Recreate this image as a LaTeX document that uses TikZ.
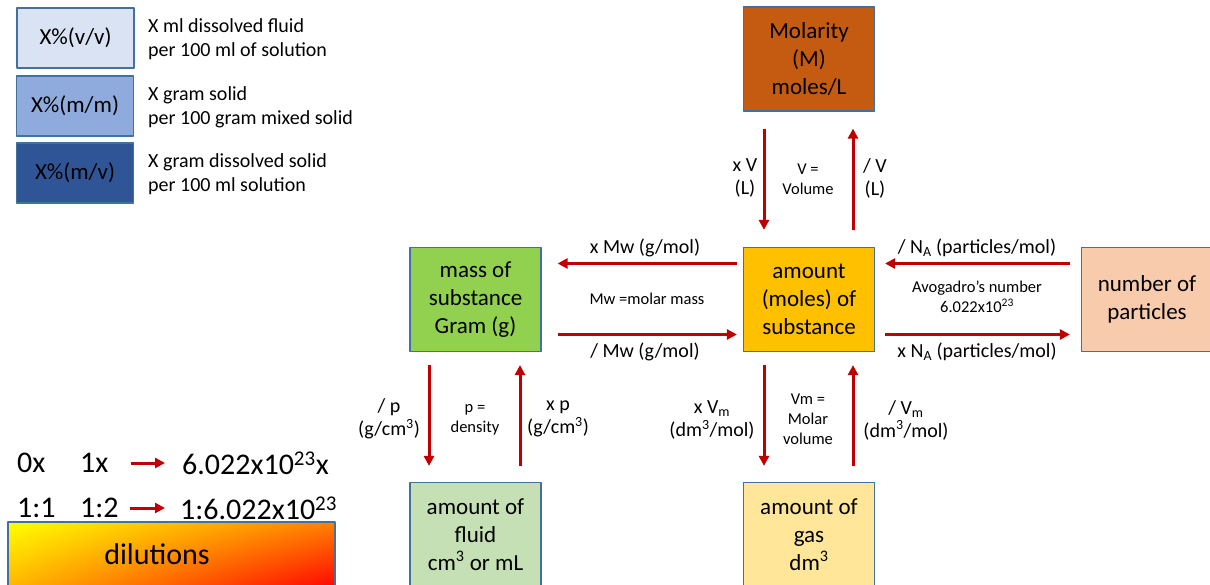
\documentclass[tikz,border=0pt]{standalone}
\usepackage{fontspec}
\setmainfont{Carlito}
\usetikzlibrary{arrows.meta,shadings}
\definecolor{arrowred}{HTML}{C00000}
\definecolor{edgeblue}{HTML}{41719C}
\definecolor{vvblue}{HTML}{DAE3F3}
\definecolor{mmblue}{HTML}{8FAADC}
\definecolor{mvblue}{HTML}{2F5597}
\definecolor{molfill}{HTML}{C55A11}
\definecolor{massfill}{HTML}{92D050}
\definecolor{amtfill}{HTML}{FFC000}
\definecolor{numfill}{HTML}{F8CBAD}
\definecolor{fluidfill}{HTML}{C5E0B4}
\definecolor{gasfill}{HTML}{FFE699}
\tikzset{
  box/.style={draw=edgeblue, line width=1.2pt, minimum width=131pt, minimum height=104pt, align=center, inner sep=0pt, font=\fontsize{23}{27.8}\selectfont},
  legbox/.style={draw=edgeblue, line width=1.2pt, minimum width=117pt, minimum height=60pt, inner sep=0pt, font=\fontsize{23}{26}\selectfont},
  legtext/.style={anchor=west, align=left, inner sep=0pt, font=\fontsize{20}{24}\selectfont},
  conn/.style={arrowred, line width=3pt, -{Triangle[length=10pt,width=10pt]}},
  smallconn/.style={arrowred, line width=3pt, -{Triangle[length=10pt,width=10pt]}},
  lbl/.style={align=center, inner sep=0pt, font=\fontsize{20}{23}\selectfont},
  note/.style={align=center, inner sep=0pt, font=\fontsize{16.5}{20}\selectfont},
  big/.style={anchor=west, inner sep=0pt, font=\fontsize{30}{34}\selectfont},
}
\begin{document}
\begin{tikzpicture}[x=1pt,y=-1pt,line join=round]
  \useasboundingbox (0,0) rectangle (1210,584);
  \clip (0,0) rectangle (1210,584);
  % legend of percentages
  \node[legbox,fill=vvblue] (vv) at (75.5,38) {X\%(v/v)};
  \node[legbox,fill=mmblue] (mm) at (75,106) {X\%(m/m)};
  \node[legbox,fill=mvblue] (mv) at (75,173) {X\%(m/v)};
  \node[legtext] (vvtext) at (148,39) {X ml dissolved fluid\\per 100 ml of solution};
  \node[legtext] (mmtext) at (148,107) {X gram solid\\per 100 gram mixed solid};
  \node[legtext] (mvtext) at (148,174) {X gram dissolved solid\\per 100 ml solution};
  % boxes
  \node[box,fill=molfill] (mol) at (809,59) {Molarity\\(M)\\moles/L};
  \node[box,fill=massfill] (mass) at (475.5,299.5) {mass of\\substance\\Gram (g)};
  \node[box,fill=amtfill] (amt) at (809,299.5) {amount\\(moles) of\\substance};
  \node[box,fill=numfill] (num) at (1147,299.5) {number of\\particles};
  \node[box,fill=fluidfill] (fluid) at (475.5,534.5) {amount of\\fluid\\cm\textsuperscript{3} or mL};
  \node[box,fill=gasfill] (gas) at (809,534.5) {amount of\\gas\\dm\textsuperscript{3}};
  % arrows
  \draw[conn,shorten <=17pt,shorten >=17pt] ([xshift=-45pt]mol.south) -- ([xshift=-45pt]amt.north);
  \draw[conn,shorten <=17pt,shorten >=17pt] ([xshift=44pt]amt.north) -- ([xshift=44pt]mol.south);
  \draw[conn,shorten <=6pt,shorten >=16pt] ([yshift=36pt]amt.west) -- ([yshift=36pt]mass.east);
  \draw[conn,shorten <=16pt,shorten >=6pt] ([yshift=-35pt]mass.east) -- ([yshift=-35pt]amt.west);
  \draw[conn,shorten <=11pt,shorten >=10pt] ([yshift=36pt]num.west) -- ([yshift=36pt]amt.east);
  \draw[conn,shorten <=10pt,shorten >=11pt] ([yshift=-35pt]amt.east) -- ([yshift=-35pt]num.west);
  \draw[conn,shorten <=13pt,shorten >=16pt] ([xshift=-46.5pt]mass.south) -- ([xshift=-46.5pt]fluid.north);
  \draw[conn,shorten <=16pt,shorten >=13pt] ([xshift=44.5pt]fluid.north) -- ([xshift=44.5pt]mass.south);
  \draw[conn,shorten <=13pt,shorten >=16pt] ([xshift=-45pt]amt.south) -- ([xshift=-45pt]gas.north);
  \draw[conn,shorten <=16pt,shorten >=13pt] ([xshift=44pt]gas.north) -- ([xshift=44pt]amt.south);
  % labels
  \node[lbl] (xv) at (745,178) {x V\\(L)};
  \node[note] (vnote) at (808,179) {V =\\Volume};
  \node[lbl] (dv) at (875,178) {/ V\\(L)};
  \node[lbl] (xmw) at (645,248) {x Mw (g/mol)};
  \node[note] (mwnote) at (647,299) {Mw =molar mass};
  \node[lbl] (dmw) at (645,352) {/ Mw (g/mol)};
  \node[lbl] (dna) at (977,248) {/ N\textsubscript{A} (particles/mol)};
  \node[note] (nanote) at (977,297) {Avogadro’s number\\6.022x10\textsuperscript{23}};
  \node[lbl] (xna) at (977,352) {x N\textsubscript{A} (particles/mol)};
  \node[lbl] (dp) at (389,419) {/ p\\(g/cm\textsuperscript{3})};
  \node[note] (pnote) at (475,420) {p =\\density};
  \node[lbl] (xp) at (558,419) {x p\\(g/cm\textsuperscript{3})};
  \node[lbl] (xvm) at (712,420) {x V\textsubscript{m}\\(dm\textsuperscript{3}/mol)};
  \node[note] (vmnote) at (808,419) {Vm =\\Molar\\volume};
  \node[lbl] (dvm) at (906,420) {/ V\textsubscript{m}\\(dm\textsuperscript{3}/mol)};
  % dilutions
  \node[big] (zero) at (17,463) {0x};
  \node[big] (one) at (80,463) {1x};
  \node[big] (avo) at (182,463) {6.022x10\textsuperscript{23}x};
  \node[big] (rone) at (17,508) {1:1};
  \node[big] (rtwo) at (80,508) {1:2};
  \node[big] (ravo) at (180,508) {1:6.022x10\textsuperscript{23}};
  \draw[smallconn,shorten <=22pt,shorten >=17pt] (one.east) -- (avo.west);
  \draw[smallconn,shorten <=11.5pt,shorten >=15pt] (rtwo.east) -- (ravo.west);
  \shade[upper left=yellow,upper right=orange,lower left=yellow!40!orange,lower right=red,draw=edgeblue,line width=1.2pt] (8,522) rectangle (335,590);
  \node[font=\fontsize{30}{34}\selectfont] (dil) at (157,554) {dilutions};
\end{tikzpicture}
\end{document}
